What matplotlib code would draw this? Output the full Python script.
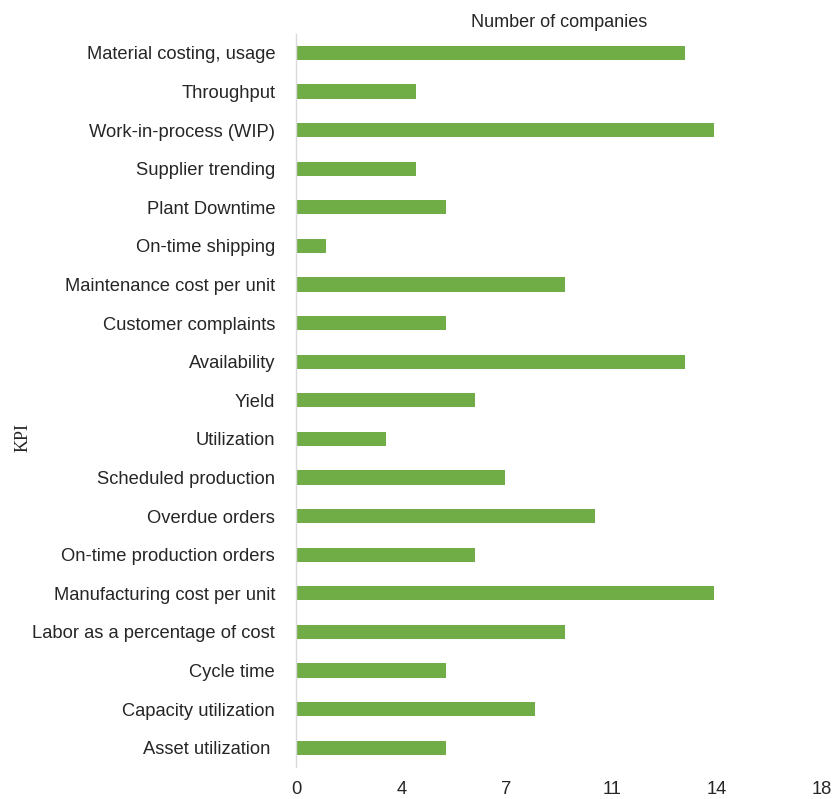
import matplotlib.pyplot as plt
import numpy as np

plt.rcParams["font.family"] = ["Liberation Sans", "DejaVu Sans"]

kpis = [
    "Material costing, usage",
    "Throughput",
    "Work-in-process (WIP)",
    "Supplier trending",
    "Plant Downtime",
    "On-time shipping",
    "Maintenance cost per unit",
    "Customer complaints",
    "Availability",
    "Yield",
    "Utilization",
    "Scheduled production",
    "Overdue orders",
    "On-time production orders",
    "Manufacturing cost per unit",
    "Labor as a percentage of cost",
    "Cycle time",
    "Capacity utilization",
    "Asset utilization ",
]
companies = [13, 4, 14, 4, 5, 1, 9, 5, 13, 6, 3, 7, 10, 6, 14, 9, 5, 8, 5]

x_max = 17.6
x_tick_labels = ["0", "4", "7", "11", "14", "18"]

BAR_COLOR = "#70AD47"
TEXT_COLOR = "#262626"

fig = plt.figure(figsize=(8.34, 7.99), dpi=100)
ax = fig.add_axes([0.355, 0.04, 0.6307, 0.918])

y = np.arange(len(kpis))
ax.barh(y, companies, height=0.37, color=BAR_COLOR)

ax.set_ylim(len(kpis) - 0.5, -0.5)
ax.set_yticks(y)
ax.set_yticklabels(kpis, fontsize=13.2, color=TEXT_COLOR)

ax.set_xlim(0, x_max)
ax.set_xticks(np.linspace(0, x_max, len(x_tick_labels)))
ax.set_xticklabels(x_tick_labels, fontsize=13.2, color=TEXT_COLOR)

ax.tick_params(axis="both", length=0)
ax.tick_params(axis="y", pad=15)
ax.tick_params(axis="x", pad=10)

for side in ("top", "right", "bottom"):
    ax.spines[side].set_visible(False)
ax.spines["left"].set_color("#d9d9d9")
ax.spines["left"].set_linewidth(1.0)

ax.set_title("Number of companies", fontsize=13, color=TEXT_COLOR, pad=5)
fig.text(0.027, 0.453, "KPI", rotation=90, ha="center", va="center",
         fontsize=13, family=["Liberation Serif", "DejaVu Serif"], color=TEXT_COLOR)

fig.savefig("out.png", dpi=100, facecolor="white")
